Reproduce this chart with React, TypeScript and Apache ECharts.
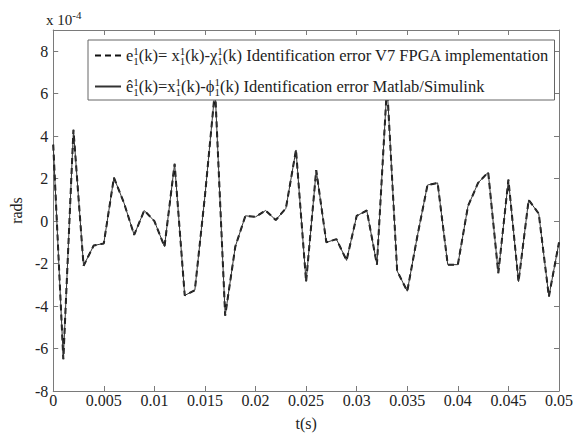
import React, { useEffect, useRef } from "react";
import * as echarts from "echarts";

// time samples (s)
const tValues = [
  0, 0.001, 0.002, 0.003, 0.004, 0.005, 0.006, 0.007, 0.008, 0.009,
  0.01, 0.011, 0.012, 0.013, 0.014, 0.015, 0.016, 0.017, 0.018, 0.019,
  0.02, 0.021, 0.022, 0.023, 0.024, 0.025, 0.026, 0.027, 0.028, 0.029,
  0.03, 0.031, 0.032, 0.033, 0.034, 0.035, 0.036, 0.037, 0.038, 0.039,
  0.04, 0.041, 0.042, 0.043, 0.044, 0.045, 0.046, 0.047, 0.048, 0.049, 0.05,
];

// error values, in units of 1e-4 rad
const fpgaError = [
  3.6, -6.5, 4.3, -2.1, -1.15, -1.05, 2.05, 0.85, -0.65, 0.5,
  0.0, -1.2, 2.7, -3.5, -3.25, 1.2, 6.2, -4.45, -1.2, 0.25,
  0.2, 0.5, 0.05, 0.6, 3.35, -2.85, 2.4, -1.0, -0.85, -1.85,
  0.25, 0.5, -2.05, 6.4, -2.35, -3.3, -0.7, 1.7, 1.8, -2.05,
  -2.05, 0.7, 1.8, 2.3, -2.45, 1.95, -2.85, 1.0, 0.35, -3.55, -1.0,
];
const simulinkError = [
  3.6, -6.5, 4.3, -2.1, -1.15, -1.05, 2.05, 0.85, -0.65, 0.5,
  0.0, -1.2, 2.7, -3.5, -3.25, 1.2, 6.2, -4.45, -1.2, 0.25,
  0.2, 0.5, 0.05, 0.6, 3.35, -2.85, 2.4, -1.0, -0.85, -1.85,
  0.25, 0.5, -2.05, 6.4, -2.35, -3.3, -0.7, 1.7, 1.8, -2.05,
  -2.05, 0.7, 1.8, 2.3, -2.45, 1.95, -2.85, 1.0, 0.35, -3.55, -1.0,
];

const seriesNames = ["FPGA", "Simulink"];
const legendTexts = [
  "e{up|1}{dn|1}(k)= x{up|1}{dn|1}(k)-χ{up|1}{dn|1}(k) Identification error V7 FPGA implementation",
  "ê{up|1}{dn|1}(k)=x{up|1}{dn|1}(k)-ϕ{up|1}{dn|1}(k) Identification error Matlab/Simulink",
];
const xTickLabels = ["0", "0.005", "0.01", "0.015", "0.02", "0.025", "0.03", "0.035", "0.04", "0.045", "0.05"];
const yTickLabels = ["-8", "-6", "-4", "-2", "0", "2", "4", "6", "8"];

const FONT = "Liberation Serif";
const AXIS_COLOR = "#7a7a7a";
const TEXT_COLOR = "#222";

export default function App() {
  const ref = useRef<HTMLDivElement>(null);
  useEffect(() => {
    if (!ref.current) return;
    const chart = echarts.init(ref.current, undefined, { renderer: "svg" });
    const rich = {
      up: { fontSize: 11, fontFamily: FONT, color: TEXT_COLOR, width: 0, padding: [0, 0, 10, 0] },
      dn: { fontSize: 11, fontFamily: FONT, color: TEXT_COLOR, padding: [10, 0, 0, 0] },
    };
    const tickIdx = (v: number, step: number, min: number) => Math.round((v - min) / step);
    const makeX = (pos: "bottom" | "top", show: boolean) => ({
      type: "value" as const,
      position: pos,
      min: 0,
      max: 0.05,
      interval: 0.005,
      axisLine: { show: true, onZero: false, lineStyle: { color: AXIS_COLOR, width: 1 } },
      axisTick: { show: true, inside: true, length: 5, lineStyle: { color: AXIS_COLOR } },
      splitLine: { show: false },
      axisLabel: {
        show,
        margin: 1,
        fontFamily: FONT,
        fontSize: 16,
        color: TEXT_COLOR,
        formatter: (v: number) => xTickLabels[tickIdx(v, 0.005, 0)] ?? "",
      },
      ...(show
        ? {
            name: "t(s)",
            nameLocation: "middle" as const,
            nameGap: 24,
            nameTextStyle: { fontFamily: FONT, fontSize: 16, color: TEXT_COLOR },
          }
        : {}),
    });
    const makeY = (pos: "left" | "right", show: boolean) => ({
      type: "value" as const,
      position: pos,
      min: -8,
      max: 9,
      interval: 2,
      axisLine: { show: true, onZero: false, lineStyle: { color: AXIS_COLOR, width: 1 } },
      axisTick: { show: true, inside: true, length: 5, lineStyle: { color: AXIS_COLOR } },
      splitLine: { show: false },
      axisLabel: {
        show,
        margin: 5,
        fontFamily: FONT,
        fontSize: 16,
        color: TEXT_COLOR,
        showMaxLabel: false,
        formatter: (v: number) => (v > 8 ? "" : yTickLabels[tickIdx(v, 2, -8)] ?? ""),
      },
      ...(show
        ? {
            name: "rads",
            nameLocation: "middle" as const,
            nameGap: 27,
            nameTextStyle: { fontFamily: FONT, fontSize: 16, color: TEXT_COLOR },
          }
        : {}),
    });

    chart.setOption({
      animation: false,
      backgroundColor: "#fff",
      grid: { left: 47, right: 14, top: 30, bottom: 37, containLabel: false },
      xAxis: [makeX("bottom", true), makeX("top", false)],
      yAxis: [makeY("left", true), makeY("right", false)],
      legend: {
        left: 88,
        top: 40,
        orient: "vertical",
        backgroundColor: "#fff",
        borderColor: "#666",
        borderWidth: 1,
        padding: [5, 5, 3, 6],
        itemWidth: 26,
        itemHeight: 14,
        itemGap: 10,
        itemStyle: { opacity: 0 },
        data: seriesNames,
        formatter: (name: string) => legendTexts[seriesNames.indexOf(name)],
        textStyle: { fontFamily: FONT, fontSize: 16.5, color: TEXT_COLOR, rich },
      },
      graphic: [
        {
          type: "text",
          left: 46,
          top: 9,
          style: {
            text: "x 10{s|-4}",
            fontFamily: FONT,
            fontSize: 15,
            fill: TEXT_COLOR,
            rich: { s: { fontSize: 11, fontFamily: FONT, fill: TEXT_COLOR, padding: [0, 0, 11, 0] } },
          },
        },
      ],
      series: [
        {
          name: seriesNames[0],
          type: "line",
          data: tValues.map((t, i) => [t, fpgaError[i]]),
          symbol: "none",
          lineStyle: { color: "#111", width: 2, type: [6, 4] },
          itemStyle: { color: "#111" },
          z: 2,
        },
        {
          name: seriesNames[1],
          type: "line",
          data: tValues.map((t, i) => [t, simulinkError[i]]),
          symbol: "none",
          lineStyle: { color: "#333", width: 1 },
          itemStyle: { color: "#333" },
          z: 3,
        },
      ],
    });
    return () => chart.dispose();
  }, []);
  return (
    <div
      ref={ref}
      style={{ position: "fixed", left: 0, top: 0, width: 576, height: 436 }}
    />
  );
}
